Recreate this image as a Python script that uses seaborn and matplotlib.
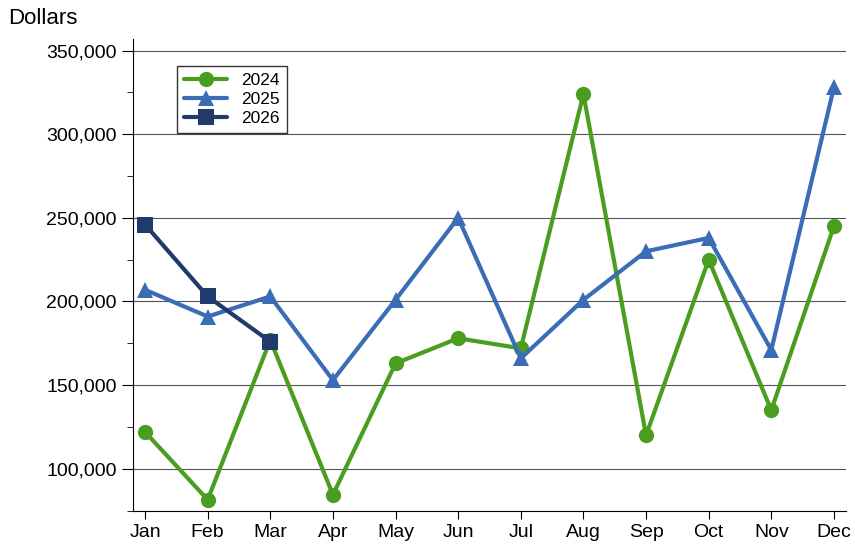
import matplotlib
matplotlib.use("Agg")
import matplotlib.pyplot as plt
import seaborn as sns
import pandas as pd
from matplotlib.ticker import FuncFormatter, MultipleLocator

months = ["Jan","Feb","Mar","Apr","May","Jun","Jul","Aug","Sep","Oct","Nov","Dec"]
v2024 = [122000, 81500, 177000, 84500, 163000, 178000, 172000, 324000, 120000, 225000, 135000, 245000]
v2025 = [207000, 191000, 203000, 153000, 201000, 250000, 166000, 201000, 230000, 238000, 171000, 328000]
v2026 = [246000, 203000, 176000]

sns.set_style("white")
plt.rcParams['font.family'] = ['Liberation Sans', 'DejaVu Sans']
plt.rcParams['text.color'] = 'black'
plt.rcParams['xtick.color'] = 'black'
plt.rcParams['ytick.color'] = 'black'
plt.rcParams['xtick.labelcolor'] = 'black'
plt.rcParams['ytick.labelcolor'] = 'black'
fig = plt.figure(figsize=(8.55, 5.55), dpi=100)
ax = fig.add_axes([0.155, 0.08, 0.835, 0.85])

rows = []
for yr, vals in (("2024", v2024), ("2025", v2025), ("2026", v2026)):
    for i, v in enumerate(vals):
        rows.append({"x": i, "v": v, "year": yr})
df = pd.DataFrame(rows)
palette = {"2024": "#4a9e1f", "2025": "#3a6db5", "2026": "#1f3a6b"}
markers = {"2024": "o", "2025": "^", "2026": "s"}
for yr in ["2024", "2025", "2026"]:
    d = df[df.year == yr]
    sns.lineplot(data=d, x="x", y="v", ax=ax, color=palette[yr], marker=markers[yr],
                 markersize=11, linewidth=3, markeredgewidth=0, label=yr)

ax.set_xlim(-0.2, 11.2)
ax.set_ylim(75000, 357000)
ax.set_xticks(range(12))
ax.set_xticklabels(months, fontsize=14)
ax.yaxis.set_major_locator(MultipleLocator(50000))
ax.yaxis.set_minor_locator(MultipleLocator(25000))
ax.yaxis.set_major_formatter(FuncFormatter(lambda v, p: f"{int(v):,}"))
ax.tick_params(axis='y', labelsize=14, which='major', length=8, direction='out', left=True)
ax.tick_params(axis='y', which='minor', length=4, left=True)
ax.tick_params(axis='x', length=6, bottom=True)
ax.grid(axis='y', color='#555555', linewidth=0.8)
ax.set_xlabel(""); ax.set_ylabel("")
for s in ["top", "right"]:
    ax.spines[s].set_visible(False)
for s in ["left", "bottom"]:
    ax.spines[s].set_color("black")
fig.text(0.01, 0.985, "Dollars", fontsize=16, va='top')
leg = ax.legend(loc='upper left', bbox_to_anchor=(0.05, 0.96), fontsize=12.5, frameon=True,
                fancybox=False, edgecolor='black', handlelength=2.5, borderpad=0.4, labelspacing=0.2)
fig.savefig("out.png", dpi=100)
